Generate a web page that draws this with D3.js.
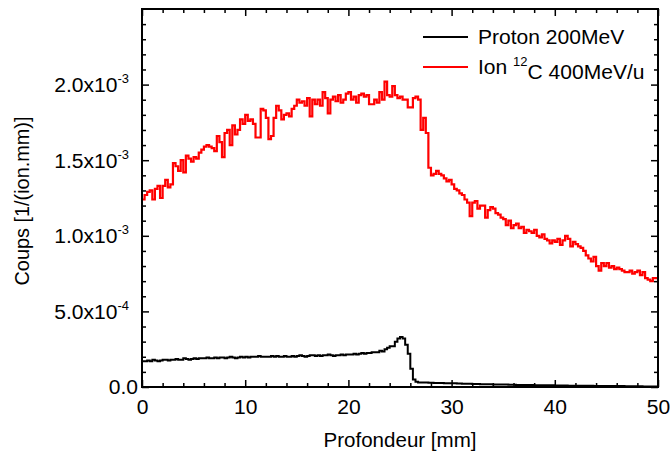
<!DOCTYPE html>
<html><head><meta charset="utf-8">
<script src="https://cdn.jsdelivr.net/npm/d3@7"></script>
<style>body{margin:0;background:#fff;} text{font-family:"Liberation Sans",Arial,sans-serif;}</style>
</head><body><svg id="c" width="670" height="458"></svg>
<script>
// depth bins: 0.25 mm wide, values in units of 1e-3 (1/(ion.mm))
const binWidth = 0.25;
const carbon = [
1.24,1.27,1.29,1.30, 1.24,1.31,1.33,1.25, 1.33,1.37,1.32,1.34, 1.48,1.46,1.43,1.50, 1.42,1.53,1.51,1.49,
1.52,1.51,1.55,1.57, 1.59,1.60,1.59,1.58, 1.56,1.66,1.62,1.52, 1.68,1.70,1.60,1.73, 1.67,1.70,1.77,1.74,
1.80,1.76,1.77,1.74, 1.65,1.65,1.84,1.83, 1.78,1.64,1.66,1.78, 1.86,1.83,1.77,1.80, 1.81,1.79,1.84,1.86,
1.90,1.88,1.89,1.86, 1.91,1.79,1.90,1.87, 1.90,1.86,1.95,1.91, 1.81,1.90,1.92,1.89, 1.93,1.88,1.90,1.94,
1.95,1.90,1.92,1.88, 1.93,1.94,1.92,1.93, 1.87,1.87,1.90,1.88, 1.95,1.90,2.02,1.93, 1.92,1.99,1.93,1.91,
1.92,1.90,1.90,1.85, 1.85,1.91,1.92,1.90, 1.70,1.78,1.68,1.45, 1.40,1.41,1.43,1.41, 1.40,1.38,1.36,1.37,
1.34,1.31,1.30,1.28, 1.27,1.24,1.22,1.13, 1.22,1.23,1.18,1.20, 1.20,1.12,1.17,1.19, 1.18,1.15,1.14,1.12,
1.11,1.07,1.10,1.05, 1.07,1.08,1.05,1.06, 1.02,1.04,1.03,1.02, 1.04,1.00,0.99,1.01, 0.98,0.97,0.95,0.97,
0.96,0.98,0.94,0.97, 1.00,0.98,0.93,0.96, 0.945,0.93,0.92,0.90, 0.87,0.85,0.83,0.86, 0.80,0.77,0.82,0.80,
0.82,0.79,0.80,0.78, 0.79,0.78,0.77,0.76, 0.76,0.77,0.75,0.76, 0.77,0.74,0.76,0.72, 0.71,0.70,0.72,0.72
];
const proton = [
0.17,0.17,0.175,0.17, 0.18,0.175,0.17,0.175, 0.18,0.18,0.175,0.18, 0.18,0.185,0.18,0.18, 0.19,0.185,0.18,0.185,
0.19,0.185,0.19,0.19, 0.19,0.195,0.19,0.19, 0.195,0.19,0.195,0.195, 0.19,0.195,0.2,0.195, 0.19,0.195,0.2,0.195,
0.2,0.195,0.2,0.2, 0.2,0.205,0.2,0.2, 0.2,0.2,0.205,0.2, 0.205,0.2,0.2,0.205, 0.2,0.2,0.205,0.2,
0.205,0.21,0.205,0.2, 0.205,0.21,0.21,0.205, 0.21,0.205,0.21,0.21, 0.215,0.21,0.205,0.21, 0.21,0.215,0.21,0.215,
0.215,0.215,0.22,0.215, 0.22,0.225,0.22,0.225, 0.225,0.23,0.23,0.23, 0.24,0.235,0.25,0.26, 0.27,0.27,0.30,0.32,
0.33,0.32,0.28,0.22, 0.12,0.05,0.035,0.03, 0.03,0.029,0.029,0.028, 0.028,0.027,0.027,0.026, 0.026,0.025,0.025,0.025,
0.024,0.024,0.023,0.023, 0.022,0.022,0.021,0.021, 0.02,0.02,0.02,0.019, 0.019,0.018,0.018,0.018, 0.017,0.017,0.017,0.016,
0.016,0.016,0.015,0.015, 0.015,0.014,0.014,0.014, 0.013,0.013,0.013,0.013, 0.012,0.012,0.012,0.012, 0.011,0.011,0.011,0.011,
0.01,0.01,0.01,0.01, 0.01,0.009,0.009,0.009, 0.009,0.009,0.008,0.008, 0.008,0.008,0.008,0.007, 0.007,0.007,0.007,0.007,
0.007,0.006,0.006,0.006, 0.006,0.006,0.006,0.005, 0.005,0.005,0.005,0.005, 0.005,0.005,0.004,0.004, 0.004,0.004,0.004,0.004
];
const xMajor = [0,10,20,30,40,50];
const xMinor = [2,4,6,8,12,14,16,18,22,24,26,28,32,34,36,38,42,44,46,48];
const yMajor = [0,0.5,1.0,1.5,2.0];
const yLabels = [["0.0",""],["5.0x10","-4"],["1.0x10","-3"],["1.5x10","-3"],["2.0x10","-3"]];
const yMinor = [0.1,0.2,0.3,0.4,0.6,0.7,0.8,0.9,1.1,1.2,1.3,1.4,1.6,1.7,1.8,1.9,2.1,2.2,2.3,2.4];
const seriesNames = ["Proton 200MeV","Ion "];
const colors = ["#000000","#ff0000"];

const svg = d3.select("#c");
const L=142, R=658, T=9, B=387;
const x = d3.scaleLinear().domain([0,50]).range([L,R]);
const y = d3.scaleLinear().domain([0,2.5]).range([B,T]);
const FF = "Liberation Sans, Arial, sans-serif";

function stepData(arr){
  const pts = arr.map((v,i)=>[i*binWidth, v]);
  pts.push([arr.length*binWidth, arr[arr.length-1]]);
  return pts;
}
const line = d3.line().x(d=>x(d[0])).y(d=>y(d[1])).curve(d3.curveStepAfter);

const plot = svg.append("g");
plot.append("path").attr("d", line(stepData(proton))).attr("fill","none").attr("stroke",colors[0]).attr("stroke-width",2);
plot.append("path").attr("d", line(stepData(carbon))).attr("fill","none").attr("stroke",colors[1]).attr("stroke-width",2.2);

function styleAxis(g){ g.select(".domain").remove(); g.selectAll("line").attr("stroke","#000").attr("stroke-width",1.5); }
svg.append("g").attr("transform",`translate(0,${B})`)
  .call(d3.axisBottom(x).tickValues(xMajor).tickSize(-7).tickPadding(13).tickFormat(d3.format("d")))
  .call(styleAxis)
  .call(g=>g.selectAll("text").attr("font-size",19.5).attr("fill","#000").attr("font-family",FF)
     .attr("transform","scale(1.08,1)"));
svg.append("g").attr("transform",`translate(0,${B})`).call(d3.axisBottom(x).tickValues(xMinor).tickSize(-4).tickFormat("")).call(styleAxis);
svg.append("g").attr("transform",`translate(0,${T})`).call(d3.axisTop(x).tickValues(xMajor).tickSize(-7).tickFormat("")).call(styleAxis);
svg.append("g").attr("transform",`translate(0,${T})`).call(d3.axisTop(x).tickValues(xMinor).tickSize(-4).tickFormat("")).call(styleAxis);

const yAx = svg.append("g").attr("transform",`translate(${L},0)`)
  .call(d3.axisLeft(y).tickValues(yMajor).tickSize(-7).tickPadding(13).tickFormat(""))
  .call(styleAxis);
yAx.selectAll(".tick").each(function(d,i){
  const t = d3.select(this).select("text");
  t.attr("font-size",19.5).attr("fill","#000").attr("font-family",FF).attr("dy","0.35em");
  const lab = yLabels[i];
  t.append("tspan").text(lab[0]);
  if(lab[1]) t.append("tspan").attr("font-size",12).attr("dy","-0.75em").text(lab[1]);
  if(!lab[1]) t.attr("x",-4);
  t.attr("transform","scale(1.08,1)");
});
yAx.selectAll(".tick text").each(function(){ // keep right alignment after scale
  const t = d3.select(this); const xx = +t.attr("x"); t.attr("x", xx/1.08);
});
svg.append("g").attr("transform",`translate(${L},0)`).call(d3.axisLeft(y).tickValues(yMinor).tickSize(-4).tickFormat("")).call(styleAxis);
svg.append("g").attr("transform",`translate(${R},0)`).call(d3.axisRight(y).tickValues(yMajor).tickSize(-7).tickFormat("")).call(styleAxis);
svg.append("g").attr("transform",`translate(${R},0)`).call(d3.axisRight(y).tickValues(yMinor).tickSize(-4).tickFormat("")).call(styleAxis);

svg.append("rect").attr("x",L).attr("y",T).attr("width",R-L).attr("height",B-T).attr("fill","none").attr("stroke","#000").attr("stroke-width",2);

svg.append("text").attr("x",(L+R)/2).attr("y",447).attr("text-anchor","middle").attr("font-size",20).attr("textLength",153).attr("lengthAdjust","spacingAndGlyphs").text("Profondeur [mm]");
svg.append("text").attr("transform",`translate(29,${(T+B)/2 + 3}) rotate(-90)`).attr("text-anchor","middle").attr("font-size",19.5).attr("textLength",169).attr("lengthAdjust","spacingAndGlyphs").text("Coups [1/(ion.mm)]");

const leg = svg.append("g");
[0,1].forEach(i=>{
  const yy = 37 + i*30;
  leg.append("line").attr("x1",423).attr("x2",468).attr("y1",yy).attr("y2",yy).attr("stroke",colors[i]).attr("stroke-width",2);
  const t = leg.append("text").attr("x",478).attr("y",yy+7).attr("font-size",19.5).attr("transform",`translate(${-478*0.08},0) scale(1.08,1)`).attr("x",478).text(seriesNames[i]);
  if(i===1){
    t.append("tspan").attr("font-size",12).attr("dy","-0.7em").text("12");
    t.append("tspan").attr("dy","0.7em").text("C 400MeV/u");
  }
});
</script></body></html>
